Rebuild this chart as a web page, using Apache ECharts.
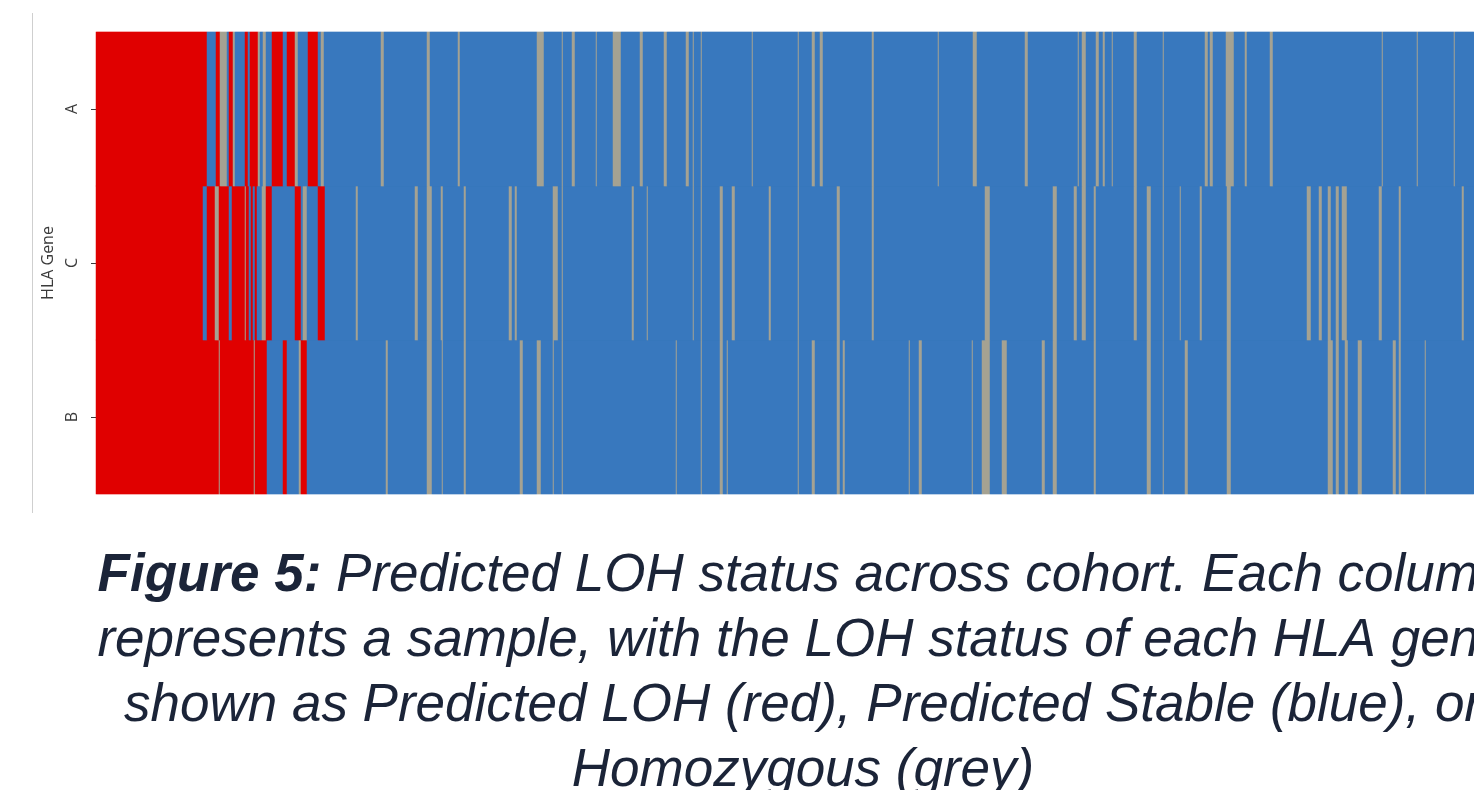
<!DOCTYPE html>
<html>
<head>
<meta charset="utf-8">
<script src="https://cdn.jsdelivr.net/npm/echarts@6/dist/echarts.min.js"></script>
<style>
html,body{margin:0;padding:0;background:#fff;}
#chart{width:1474px;height:790px;}
</style>
</head>
<body>
<div id="chart"></div>
<script>
// ---- data (sample index runs [start, end) read from the picture) ----
const sampleCount = 1378;
const genes = ['B', 'C', 'A'];           // bottom -> top
const statusNames = ['Predicted Stable', 'Predicted LOH', 'Homozygous'];

const redA = [[0,111],[120,124],[133,137],[149,152],[154,162],[176,187],[191,199],[212,222]];
const greyA = [[124,131],[137,139],[162,164],[167,170],[199,202],[225,228],[285,288],[331,334],[362,364],
  [441,448],[466,467],[476,479],[500,501],[517,525],[544,547],[568,571],[590,593],[597,598],[605,606],
  [656,657],[702,703],[716,719],[724,727],[776,778],[842,843],[877,881],[929,932],[982,983],[986,990],
  [1000,1003],[1007,1009],[1016,1017],[1038,1041],[1067,1068],[1109,1112],[1114,1117],[1130,1138],
  [1149,1151],[1174,1177],[1286,1287],[1321,1322],[1358,1359]];

const redC = [[0,107],[111,119],[123,133],[136,149],[150,153],[155,157],[159,161],[170,176],[199,205],[222,229]];
const greyC = [[119,123],[149,150],[166,170],[207,211],[260,262],[319,322],[331,336],[345,347],[368,370],
  [413,416],[419,421],[457,462],[466,467],[536,538],[551,552],[597,598],[605,606],[624,627],[636,639],
  [673,675],[702,703],[741,744],[776,778],[889,894],[957,961],[978,981],[986,990],[998,1000],[1038,1041],
  [1051,1055],[1067,1068],[1084,1085],[1104,1106],[1131,1135],[1211,1215],[1223,1226],[1232,1235],
  [1240,1243],[1246,1251],[1283,1286],[1303,1305],[1366,1368]];

const redB = [[0,123],[124,158],[159,171],[187,191],[205,211]];
const greyB = [[123,124],[158,159],[203,205],[290,292],[331,336],[346,347],[368,370],[424,427],[441,445],
  [457,458],[466,467],[580,581],[605,606],[624,627],[631,632],[702,703],[716,719],[741,744],[747,749],
  [813,814],[823,826],[876,877],[886,894],[906,911],[946,949],[957,961],[998,1000],[1051,1055],
  [1067,1068],[1089,1092],[1131,1135],[1232,1237],[1240,1243],[1249,1252],[1262,1266],[1297,1300],
  [1303,1305],[1329,1330]];

const captionLines = [
  ['Figure 5:', ' Predicted LOH status across cohort. Each column'],
  ['', 'represents a sample, with the LOH status of each HLA gene'],
  ['', 'shown as Predicted LOH (red), Predicted Stable (blue), or'],
  ['', 'Homozygous (grey)']
];

// ---- build cells ----
const runsByGene = { A: [redA, greyA], C: [redC, greyC], B: [redB, greyB] };
const samples = [];
for (let i = 0; i < sampleCount; i++) samples.push('S' + (i + 1));
const cells = [];
genes.forEach((g, gi) => {
  const row = new Array(sampleCount).fill(0);
  const [reds, greys] = runsByGene[g];
  reds.forEach(([s, e]) => { for (let i = s; i < e && i < sampleCount; i++) row[i] = 1; });
  greys.forEach(([s, e]) => { for (let i = s; i < e && i < sampleCount; i++) row[i] = 2; });
  row.forEach((v, i) => cells.push([i, gi, v]));
});

const chart = echarts.init(document.getElementById('chart'), null, { renderer: 'canvas' });
const capFont = '"Liberation Sans", Arial, Helvetica, sans-serif';
const capColor = '#1b2438';
const graphics = [
  { type: 'line', shape: { x1: 32.5, y1: 13, x2: 32.5, y2: 513 }, style: { stroke: '#cfcfcf', lineWidth: 1 } }
];
captionLines.forEach((ln, k) => {
  graphics.push({
    type: 'text', x: 803, y: 576 + k * 65,
    style: {
      text: (ln[0] ? '{b|' + ln[0] + '}' : '') + '{n|' + ln[1] + '}',
      align: 'center', verticalAlign: 'middle',
      rich: {
        b: { fontFamily: capFont, fontSize: 53, fontStyle: 'italic', fontWeight: 'bold', fill: capColor, color: capColor },
        n: { fontFamily: capFont, fontSize: 53, fontStyle: 'italic', fill: capColor, color: capColor }
      },
      fill: capColor
    }
  });
});

chart.setOption({
  animation: false,
  grid: { left: 96, right: 0, top: 32, bottom: 296, containLabel: false },
  xAxis: { type: 'category', data: samples, show: false, boundaryGap: true },
  yAxis: {
    type: 'category', data: genes,
    name: 'HLA Gene', nameLocation: 'middle', nameGap: 39, nameRotate: 90,
    nameTextStyle: { fontFamily: 'Open Sans', fontSize: 16, color: '#3a3a3a' },
    axisLine: { show: false },
    axisTick: { show: true, length: 5, lineStyle: { color: '#3a3a3a' }, alignWithLabel: true },
    axisLabel: { rotate: 90, margin: 16, fontFamily: 'Open Sans', fontSize: 16, color: '#3a3a3a' },
    splitLine: { show: false }
  },
  visualMap: {
    type: 'piecewise', show: false, dimension: 2,
    pieces: [
      { value: 0, color: '#3878be', label: statusNames[0] },
      { value: 1, color: '#e00000', label: statusNames[1] },
      { value: 2, color: '#a5a392', label: statusNames[2] }
    ]
  },
  series: [{
    type: 'heatmap', data: cells, progressive: 0,
    itemStyle: { borderWidth: 0 },
    emphasis: { disabled: true }
  }],
  graphic: graphics
});
</script>
</body>
</html>
